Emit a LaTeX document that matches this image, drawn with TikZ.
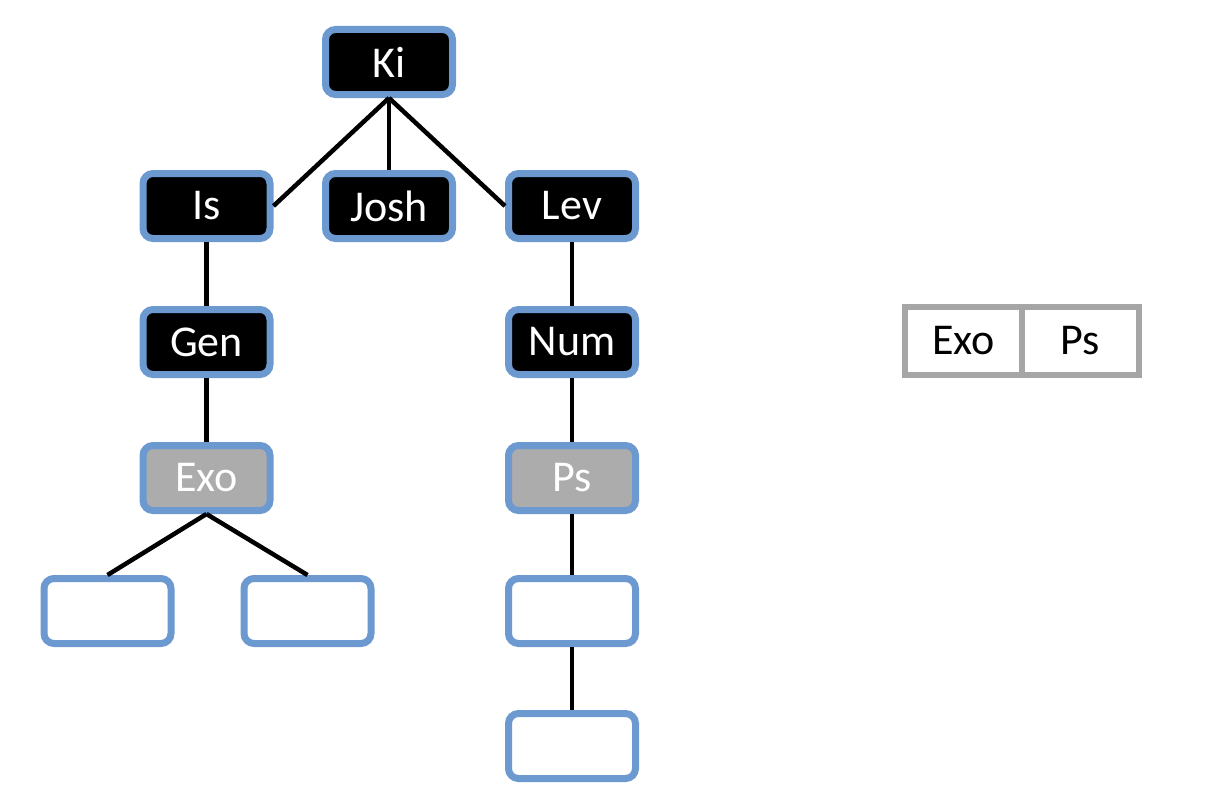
\documentclass[tikz,border=0pt]{standalone}
\usepackage{fontspec}
\setmainfont{Carlito}
\definecolor{bblue}{HTML}{6C9AD0}
\definecolor{gfill}{HTML}{ADACAC}
\definecolor{gline}{HTML}{A6A6A6}
\begin{document}
\begin{tikzpicture}[x=1pt,y=-1pt,
  tbox/.style={draw=bblue,line width=7pt,rounded corners=10pt,minimum width=127pt,minimum height=65pt,inner sep=0pt,font=\fontsize{44}{50}\selectfont,text=white},
  blk/.style={tbox,fill=black},
  gry/.style={tbox,fill=gfill},
  emp/.style={tbox,fill=white},
  cell/.style={draw=gline,line width=6pt,fill=white,minimum width=117pt,minimum height=68pt,inner sep=0pt,font=\fontsize{44}{50}\selectfont},
  conn/.style={line width=4.5pt}]
\useasboundingbox (0,0) rectangle (1210,808);
\node[blk] (ki) at (389,62) {Ki};
\node[blk] (is) at (206.5,206) {Is};
\node[blk] (josh) at (389,206) {Josh};
\node[blk] (lev) at (572,206) {Lev};
\node[blk] (gen) at (206.5,342) {Gen};
\node[blk] (num) at (572,342) {Num};
\node[gry] (exo) at (206.5,478) {Exo};
\node[gry] (ps) at (572,478) {Ps};
\node[emp] (e1) at (107.5,611) {};
\node[emp] (e2) at (307.5,611) {};
\node[emp] (e3) at (572,611) {};
\node[emp] (e4) at (572,746) {};
\node[cell] (ca) at (963.5,341) {Exo};
\node[cell] (cb) at (1080.5,341) {Ps};
\draw[conn] (ki.south) -- (is.east);
\draw[conn] (ki.south) -- (josh.north);
\draw[conn] (ki.south) -- (lev.west);
\draw[conn] (is) -- (gen);
\draw[conn] (gen) -- (exo);
\draw[conn] (lev) -- (num);
\draw[conn] (num) -- (ps);
\draw[conn] (exo.south) -- (e1.north);
\draw[conn] (exo.south) -- (e2.north);
\draw[conn] (ps) -- (e3);
\draw[conn] (e3) -- (e4);
\end{tikzpicture}
\end{document}
